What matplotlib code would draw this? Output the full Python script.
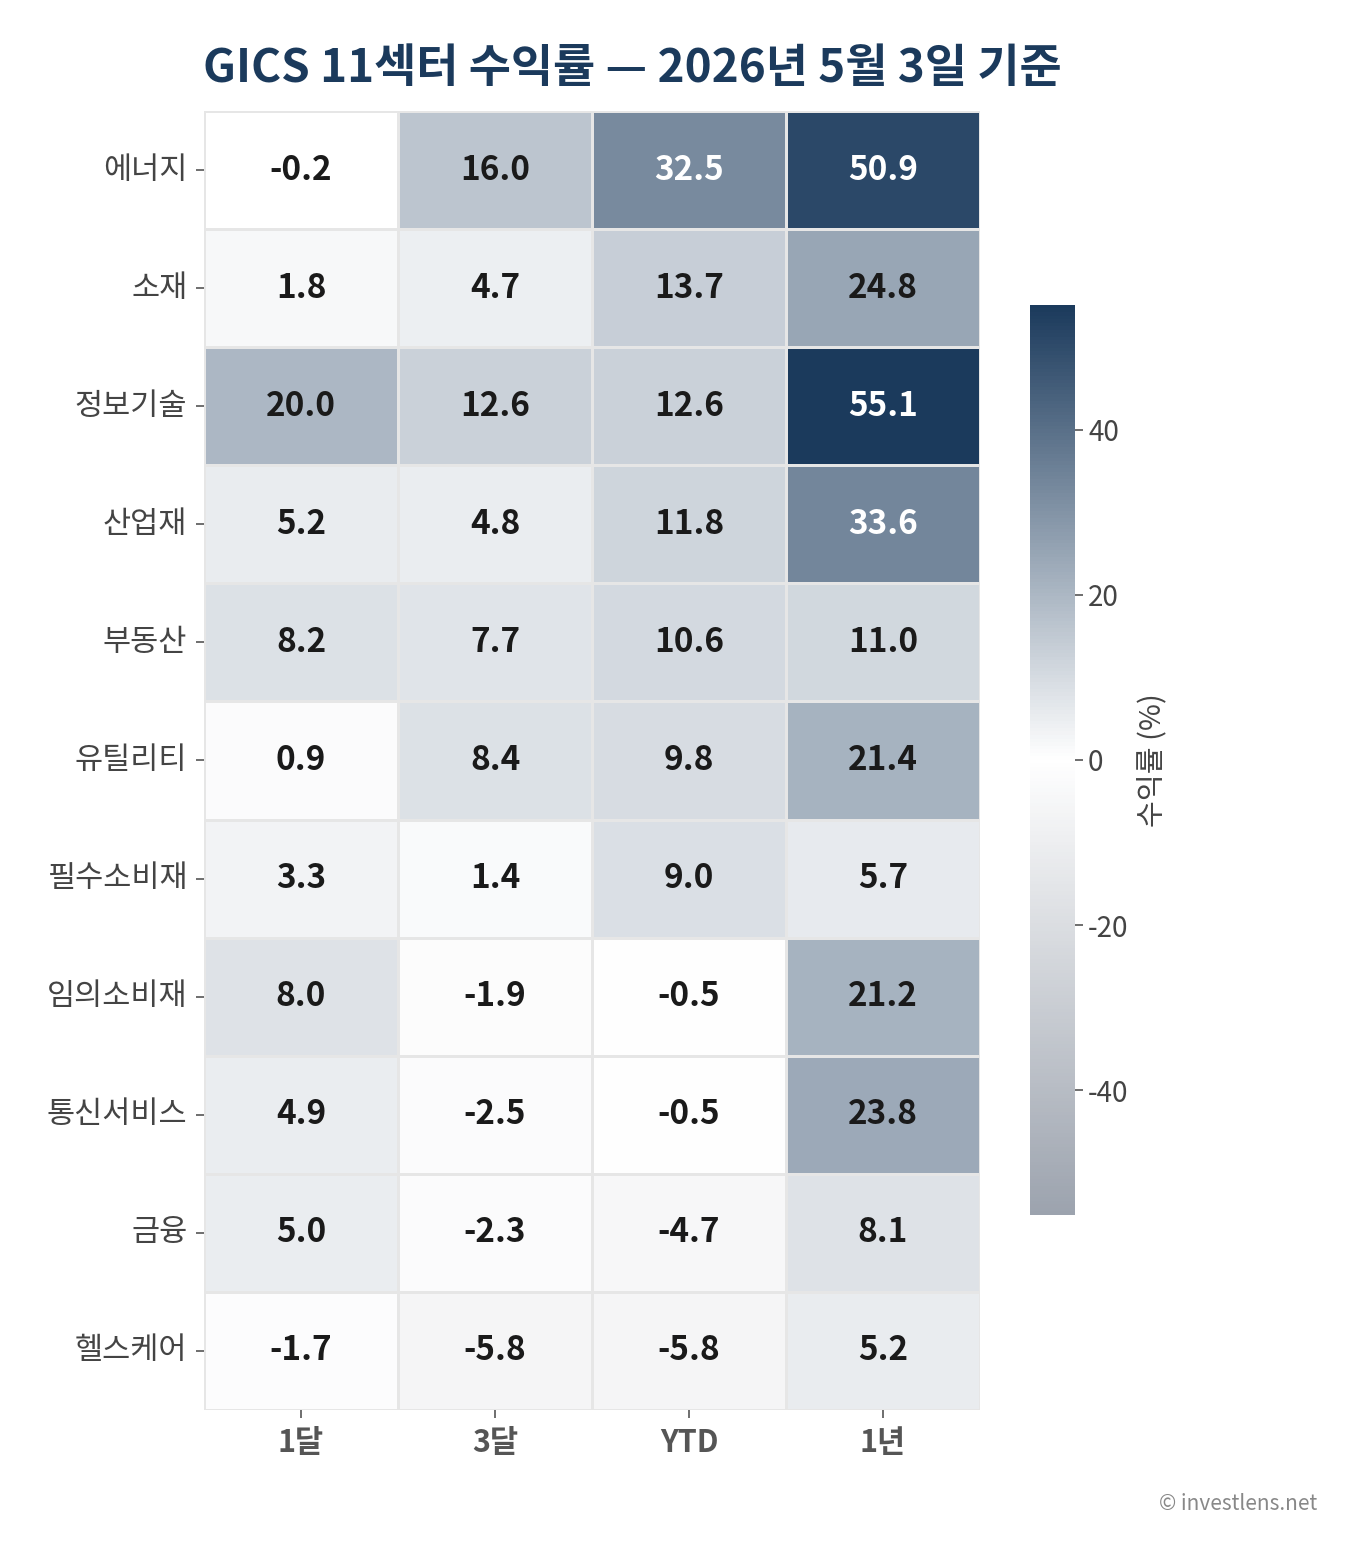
import matplotlib
matplotlib.use("Agg")
import matplotlib.pyplot as plt
import numpy as np
import seaborn as sns
from matplotlib.colors import LinearSegmentedColormap

plt.rcParams['font.family'] = ['Noto Sans CJK KR', 'DejaVu Sans']
plt.rcParams['axes.unicode_minus'] = False

sectors = ["에너지", "소재", "정보기술", "산업재", "부동산", "유틸리티",
           "필수소비재", "임의소비재", "통신서비스", "금융", "헬스케어"]
periods = ["1달", "3달", "YTD", "1년"]
ret_1m = [-0.2, 1.8, 20.0, 5.2, 8.2, 0.9, 3.3, 8.0, 4.9, 5.0, -1.7]
ret_3m = [16.0, 4.7, 12.6, 4.8, 7.7, 8.4, 1.4, -1.9, -2.5, -2.3, -5.8]
ret_ytd = [32.5, 13.7, 12.6, 11.8, 10.6, 9.8, 9.0, -0.5, -0.5, -4.7, -5.8]
ret_1y = [50.9, 24.8, 55.1, 33.6, 11.0, 21.4, 5.7, 21.2, 23.8, 8.1, 5.2]

data = np.array([ret_1m, ret_3m, ret_ytd, ret_1y]).T
vmax = np.abs(data).max()

cmap = LinearSegmentedColormap.from_list("gw_navy", ["#9ca3ae", "#ffffff", "#1b3a5c"])

fig = plt.figure(figsize=(13.62, 15.59), dpi=100)
ax = fig.add_axes([0.1498, 0.0956, 0.5697, 0.8332])
cax = fig.add_axes([0.7562, 0.2207, 0.033, 0.5837])

sns.heatmap(data, ax=ax, cbar_ax=cax, cmap=cmap, vmin=-vmax, vmax=vmax,
            linewidths=2, linecolor="#e6e6e6", annot=False)

for i in range(data.shape[0]):
    for j in range(data.shape[1]):
        v = data[i, j]
        col = "white" if abs(v) > 0.55 * vmax else "#1a1a1a"
        ax.text(j + 0.5, i + 0.5, f"{v:.1f}", ha="center", va="center",
                fontsize=24, fontweight="bold", color=col)

ax.set_xticks(np.arange(len(periods)) + 0.5)
ax.set_xticklabels(periods, fontsize=22, fontweight="bold", color="#555555")
ax.set_yticks(np.arange(len(sectors)) + 0.5)
ax.set_yticklabels(sectors, fontsize=22, color="#444444", rotation=0)
ax.tick_params(axis="both", length=6, width=1.2, color="#555555", pad=6)

cax.tick_params(labelsize=20, labelcolor="#444444", length=6, width=1.2, color="#555555")
cax.set_ylabel("수익률 (%)", fontsize=21, color="#444444", labelpad=6)
for s in cax.spines.values():
    s.set_visible(False)

fig.text(0.464, 0.956, "GICS 11섹터 수익률 — 2026년 5월 3일 기준", ha="center", va="center",
         fontsize=33, fontweight="bold", color="#1b3a5c")
fig.text(0.967, 0.035, "© investlens.net", ha="right", va="center",
         fontsize=15, color="#888888")

fig.savefig("out.png", dpi=100)
